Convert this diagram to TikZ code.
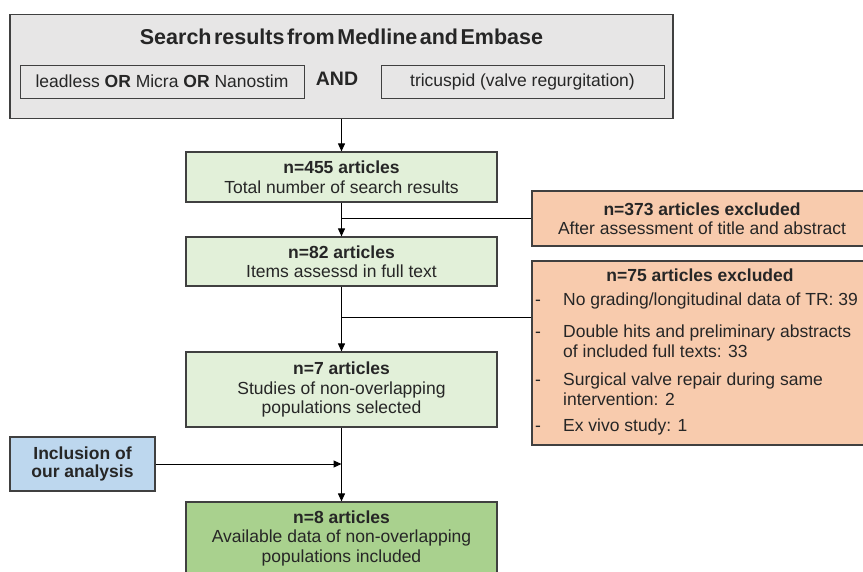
\documentclass[tikz,border=0pt]{standalone}
\usepackage{fontspec}
\setmainfont{Liberation Sans}
\usetikzlibrary{arrows.meta}
\definecolor{searchgray}{HTML}{E7E6E6}
\definecolor{stagegreen}{HTML}{E2F0D9}
\definecolor{finalgreen}{HTML}{A9D18E}
\definecolor{exclorange}{HTML}{F8CBAD}
\definecolor{ownblue}{HTML}{BDD7EE}
\newcommand\tightspaces{\spaceskip=2.5pt plus 1pt\relax}
\begin{document}
\begin{tikzpicture}[x=1pt,y=-1pt,
        font=\fontsize{17.5}{19.5}\selectfont,text=black!85,
        frame/.style={draw=black!75,line width=1.2pt,inner sep=0pt,align=center},
        term/.style={frame,line width=1pt,minimum width=284pt,minimum height=33pt},
        stage/.style={frame,fill=stagegreen,minimum width=311pt},
        excl/.style={frame,fill=exclorange,minimum width=340pt},
        flow/.style={line width=1pt,-{Triangle[length=8pt,width=7pt]}},
        branch/.style={line width=1pt}]
    \useasboundingbox (0,0) rectangle (863,571);

    % search terms
    \node[frame,fill=searchgray,minimum width=663pt,minimum height=104pt] (search) at (341.5,66.5) {};
    \node[font=\fontsize{21.5}{24}\selectfont\bfseries\tightspaces] (title) at (341.5,37)
        {Search results from Medline and Embase};
    \node[term] (termL) at (162,81.5) {leadless \textbf{OR} Micra \textbf{OR} Nanostim};
    \node[font=\fontsize{19.5}{22}\selectfont\bfseries] (and) at (337,79) {AND};
    \node[term,minimum width=283pt] (termR) at (522.5,81.5) {tricuspid (valve regurgitation)};

    % main stages
    \node[stage,minimum height=50pt] (total) at (341.5,177) {\textbf{n=455 articles}\\Total number of search results};
    \node[stage,minimum height=49pt] (full) at (341.5,261.5) {\textbf{n=82 articles}\\Items assessd in full text};
    \node[stage,minimum height=75pt] (selected) at (341.5,389.5) {\textbf{n=7 articles}\\Studies of non-overlapping\\populations selected};
    \node[frame,fill=finalgreen,minimum width=311pt,minimum height=72pt] (final) at (341.5,538)
        {\textbf{n=8 articles}\\Available data of non-overlapping\\populations included};
    \node[frame,fill=ownblue,minimum width=145pt,minimum height=54pt,font=\fontsize{17.5}{18.5}\selectfont\bfseries] (ours) at (82.5,464)
        {Inclusion of\\our analysis};

    % exclusions
    \node[excl,minimum height=55pt] (exclA) at (702,218.5) {\textbf{n=373 articles excluded}\\After assessment of title and abstract};
    \node[excl,minimum height=184pt] (exclB) at (702,353) {};
    \node[font=\fontsize{17.5}{19.5}\selectfont\bfseries] (exclBtitle) at (700,275) {n=75 articles excluded};
    \node[anchor=north west,inner sep=0pt,align=left] (reasons) at (535,291) {%
        \renewcommand\arraystretch{1.03}%
        \begin{tabular}{@{}p{28pt}@{}l@{}}
        - & No grading/longitudinal data of TR: 39\\[12pt]
        - & Double hits and preliminary abstracts\\
          & of included full texts: 33\\[8pt]
        - & Surgical valve repair during same\\
          & intervention: 2\\[6pt]
        - & Ex vivo study: 1
        \end{tabular}};

    \coordinate (split1) at (341.5,218.5);
    \coordinate (split2) at (341.5,317);
    \coordinate (join) at (341.5,464);

    \draw[flow] (search.south) -- (total.north);
    \draw[flow] (total.south) -- (full.north);
    \draw[flow] (full.south) -- (selected.north);
    \draw[flow] (selected.south) -- (final.north);
    \draw[branch] (split1) -- (exclA.west);
    \draw[branch] (split2) -- (split2 -| exclB.west);
    \draw[flow] (ours.east) -- (join);
\end{tikzpicture}
\end{document}
